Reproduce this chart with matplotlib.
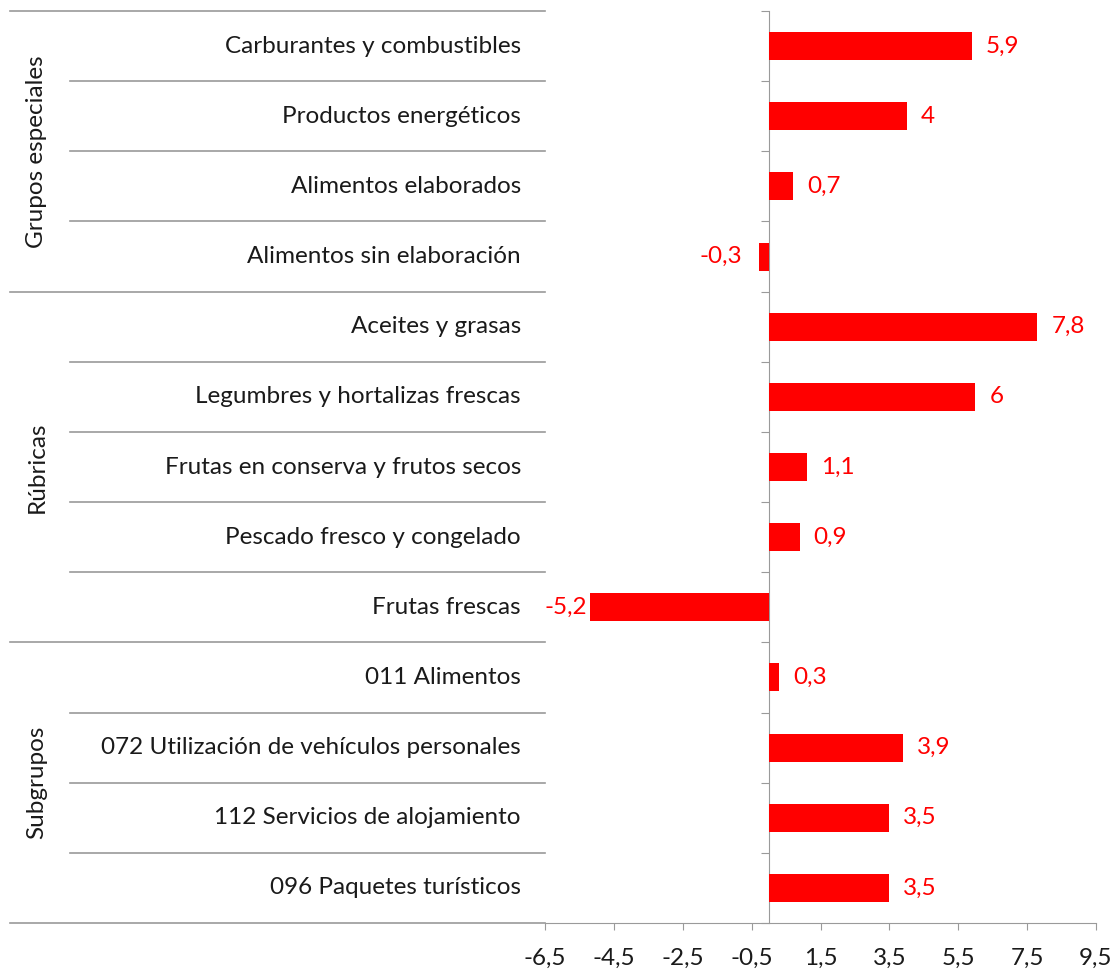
import matplotlib.pyplot as plt
from matplotlib.transforms import blended_transform_factory

plt.rcParams['font.family'] = ['Lato', 'DejaVu Sans']

categories = ['Carburantes y combustibles', 'Productos energéticos', 'Alimentos elaborados',
              'Alimentos sin elaboración', 'Aceites y grasas', 'Legumbres y hortalizas frescas',
              'Frutas en conserva y frutos secos', 'Pescado fresco y congelado', 'Frutas frescas',
              '011 Alimentos', '072 Utilización de vehículos personales',
              '112 Servicios de alojamiento', '096 Paquetes turísticos']
values = [5.9, 4.0, 0.7, -0.3, 7.8, 6.0, 1.1, 0.9, -5.2, 0.3, 3.9, 3.5, 3.5]
value_labels = ['5,9', '4', '0,7', '-0,3', '7,8', '6', '1,1', '0,9', '-5,2', '0,3', '3,9', '3,5', '3,5']
groups = ['Grupos especiales', 'Rúbricas', 'Subgrupos']
group_sizes = [4, 5, 4]
xticks = [-6.5, -4.5, -2.5, -0.5, 1.5, 3.5, 5.5, 7.5, 9.5]
xtick_labels = ['-6,5', '-4,5', '-2,5', '-0,5', '1,5', '3,5', '5,5', '7,5', '9,5']

W, H = 1118, 971
fig = plt.figure(figsize=(W / 100, H / 100), dpi=100)
ax_l, ax_r, ax_t, ax_b = 545, 1096, 11, 923
ax = fig.add_axes([ax_l / W, 1 - ax_b / H, (ax_r - ax_l) / W, (ax_b - ax_t) / H])

grey = '#9a9a9a'
txt = '#1a1a1a'
red = '#ff0000'
fs = 17.5

n = len(categories)
y = list(range(n))
ax.barh(y, values, height=0.4, color=red, zorder=3)
ax.set_xlim(-6.5, 9.5)
ax.set_ylim(n - 0.5, -0.5)

for s in ['top', 'right']:
    ax.spines[s].set_visible(False)
ax.spines['left'].set_position(('data', 0))
ax.spines['left'].set_color(grey)
ax.spines['bottom'].set_color(grey)
ax.set_yticks([i - 0.5 for i in range(n + 1)])
ax.set_yticklabels([])
ax.tick_params(axis='y', direction='out', length=6, color=grey)
ax.set_xticks(xticks)
ax.set_xticklabels(xtick_labels, fontsize=fs, color=txt)
ax.tick_params(axis='x', direction='out', length=5, color=grey, pad=13)

# value labels
neg_labels = []
for yi, v, lab in zip(y, values, value_labels):
    if v >= 0:
        ax.annotate(lab, (v, yi), xytext=(10, 0), textcoords='offset points',
                    ha='left', va='center', fontsize=fs, color=red)
    else:
        t = ax.annotate(lab, (v, yi), xytext=(-12, 0), textcoords='offset points',
                        ha='right', va='center', fontsize=fs, color=red)
        neg_labels.append((t, yi))

# category labels and separators
trans = blended_transform_factory(ax.transAxes, ax.transData)
def px(xp):
    return (xp - ax_l) / (ax_r - ax_l)

for yi, c in zip(y, categories):
    ax.text(px(521), yi, c, transform=trans, ha='right', va='center', fontsize=fs, color=txt)

group_edges = [-0.5]
for gs in group_sizes:
    group_edges.append(group_edges[-1] + gs)

for b in range(n + 1):
    yb = b - 0.5
    x0 = px(10) if yb in group_edges else px(70)
    ax.plot([x0, 0], [yb, yb], transform=trans, color=grey, lw=1.2, clip_on=False)

start = -0.5
for g, gs in zip(groups, group_sizes):
    ax.text(px(37), start + gs / 2, g, transform=trans, rotation=90, ha='center', va='center',
            fontsize=fs, color=txt)
    start += gs

# keep negative labels inside the plot area, as the spreadsheet does
fig.canvas.draw()
r = fig.canvas.get_renderer()
for t, yi in neg_labels:
    bb = t.get_window_extent(r)
    if bb.x0 < ax_l:
        t.remove()
        ax.text(0.0, yi, t.get_text(), transform=trans, ha='left', va='center',
                fontsize=fs, color=red)

fig.savefig('out.png', dpi=100)
